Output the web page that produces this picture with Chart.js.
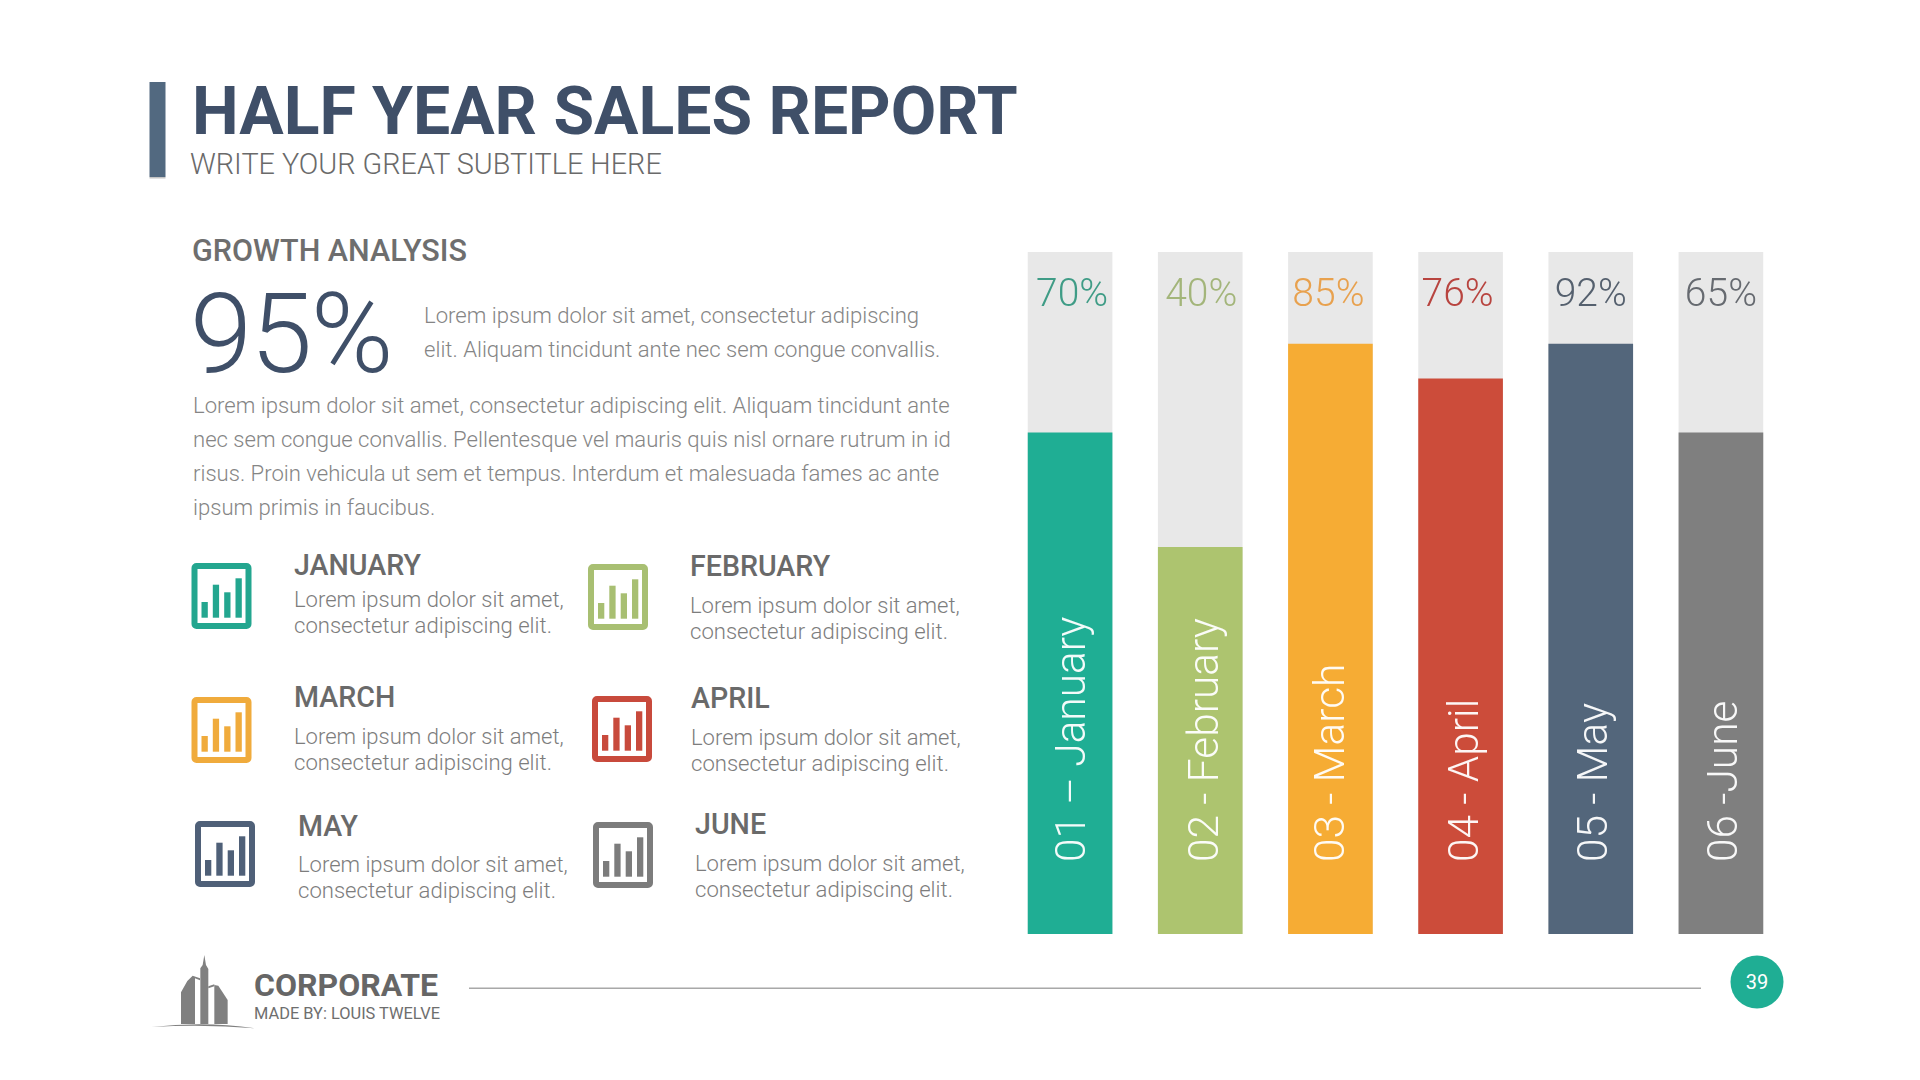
<!DOCTYPE html>
<html>
<head>
<meta charset="utf-8">
<title>Half Year Sales Report</title>
<script src="https://cdn.jsdelivr.net/npm/chart.js@4"></script>
<style>
    html, body { margin: 0; padding: 0; background: #fff; width: 1920px; height: 1080px; overflow: hidden; }
    #slide { position: absolute; left: 0; top: 0; }
    #myChart { position: absolute; left: 1005px; top: 252px; }
    text { font-family: Roboto, sans-serif; }
</style>
</head>
<body>
<svg id="slide" width="1920" height="1080" xmlns="http://www.w3.org/2000/svg"></svg>
<canvas id="myChart" width="781" height="682"></canvas>

<script>
// chart data
const months = ['01 – January', '02 - February', '03 - March', '04 - April', '05 - May', '06 -June'];
const fillValues = [73.5, 56.7, 86.5, 81.4, 86.5, 73.5];
const trackValues = [100, 100, 100, 100, 100, 100];
const percentLabels = ['70%', '40%', '85%', '76%', '92%', '65%'];
const barColors = ['#1fae94', '#adc46f', '#f6ac34', '#cc4c3a', '#53667b', '#7f7f7f'];
const percentColors = ['#3f9c86', '#a3b57a', '#e8a14e', '#b8443f', '#55606e', '#666a70'];

const itemNames = ['JANUARY', 'FEBRUARY', 'MARCH', 'APRIL', 'MAY', 'JUNE'];
const iconColors = ['#23a68f', '#a8bf72', '#f0ab3c', '#c84a3c', '#4f6078', '#7c7c7c'];

const NS = 'http://www.w3.org/2000/svg';
const slide = document.getElementById('slide');

function shape(tag, attrs, parent) {
    let el = document.createElementNS(NS, tag);
    for (let key in attrs) el.setAttribute(key, attrs[key]);
    (parent || slide).appendChild(el);
    return el;
}

// x and y are the start of the text and its baseline
function label(str, x, y, size, weight, color) {
    let el = shape('text', { x: x, y: y, 'font-size': size, 'font-weight': weight, fill: color });
    el.textContent = str;
    return el;
}

// small bar chart icon
function icon(x, y, color) {
    let g = shape('g', { transform: 'translate(' + x + ' ' + y + ')' });
    shape('rect', { x: 3, y: 3, width: 54, height: 60, rx: 2, fill: 'none', stroke: color, 'stroke-width': 6 }, g);
    shape('rect', { x: 10, y: 39, width: 6.3, height: 15.7, fill: color }, g);
    shape('rect', { x: 21.3, y: 21.7, width: 6.3, height: 33, fill: color }, g);
    shape('rect', { x: 32.7, y: 29.3, width: 6.3, height: 25.4, fill: color }, g);
    shape('rect', { x: 44, y: 15.3, width: 6.3, height: 39.4, fill: color }, g);
}

function header() {
    shape('rect', { x: 149.5, y: 177, width: 16, height: 1.5, fill: '#c4c4c4' });
    shape('rect', { x: 149.5, y: 82, width: 16, height: 95, fill: '#526980' });
    label('HALF YEAR SALES REPORT', 192, 134, 66.1, 700, '#3f4f68');
    label('WRITE YOUR GREAT SUBTITLE HERE', 190, 174, 28.8, 300, '#6a6a6a');
}

function intro() {
    label('GROWTH ANALYSIS', 192, 261, 30.5, 500, '#6e6e6e');
    label('95%', 190, 371.5, 112, 300, '#3f4f68').setAttribute('letter-spacing', '-1.8');

    const grey = '#858585';
    label('Lorem ipsum dolor sit amet, consectetur adipiscing', 424, 323, 22.1, 300, grey);
    label('elit. Aliquam tincidunt ante nec sem congue convallis.', 424, 357, 22.1, 300, grey);
    label('Lorem ipsum dolor sit amet, consectetur adipiscing elit. Aliquam tincidunt ante', 193, 413, 22.1, 300, grey);
    label('nec sem congue convallis. Pellentesque vel mauris quis nisl ornare rutrum in id', 193, 447, 22.1, 300, grey);
    label('risus. Proin vehicula ut sem et tempus. Interdum et malesuada fames ac ante', 193, 481, 22.1, 300, grey);
    label('ipsum primis in faucibus.', 193, 515, 22.1, 300, grey);
}

function items() {
    // icon x, icon y, text x, heading baseline, first body baseline
    const slots = [
        [191.5, 563, 294, 575, 607],
        [588, 564, 690, 576, 613],
        [191.5, 697, 294, 707, 744],
        [592, 696, 691, 708, 745],
        [195, 821, 298, 836, 872],
        [593, 822, 695, 834, 871]
    ];
    slots.forEach((s, i) => {
        icon(s[0], s[1], iconColors[i]);
        label(itemNames[i], s[2], s[3], 28.6, 500, '#6a6a6a');
        label('Lorem ipsum dolor sit amet,', s[2], s[4], 22, 300, '#7d7d7d');
        label('consectetur adipiscing elit.', s[2], s[4] + 26, 22.1, 300, '#7d7d7d');
    });
}

function footer() {
    // logo, drawn in the coordinates of a 3x crop
    let logo = shape('g', { transform: 'translate(150 945) scale(0.3333)', fill: '#808080' });
    shape('path', { d: 'M93 237V142L112 108L128 92L150 100V106L135 100V237Z' }, logo);
    shape('path', { d: 'M151 237V70L158 60L163 30L168 60L175 72V237Z' }, logo);
    shape('path', { d: 'M175 124L193 118V124L175 130Z' }, logo);
    shape('path', { d: 'M193 237V120L205 122L233 165V237Z' }, logo);
    shape('path', { d: 'M5 246Q165 228 315 250Q165 237 5 246Z' }, logo);

    label('CORPORATE', 254, 996, 32, 700, '#666');
    label('MADE BY: LOUIS TWELVE', 254, 1018.5, 16.4, 400, '#6e6e6e');
    shape('rect', { x: 469, y: 987.5, width: 1232, height: 1.5, fill: '#a8a8a8' });
    shape('circle', { cx: 1757, cy: 982, r: 26.5, fill: '#1fae94' });
    let num = shape('text', { x: 1757, y: 989, 'font-size': 20, 'font-weight': 400, fill: '#fff', 'text-anchor': 'middle' });
    num.textContent = '39';
}

header();
intro();
items();
footer();

// percent on top of each track and month name up the bar
const percentShift = [2, 1, -2, -3, 0, 0];
const monthShift = [15, 18, 13.5, 17, 16, 16];

const barText = {
    id: 'barText',
    afterDatasetsDraw(chart) {
        const c = chart.ctx;
        const xs = chart.scales.x;
        const top = chart.chartArea.top;
        const bottom = chart.chartArea.bottom;
        c.save();
        months.forEach((m, i) => {
            let x = xs.getPixelForValue(i);

            c.font = '300 39px Roboto';
            c.fillStyle = percentColors[i];
            c.textAlign = 'center';
            c.textBaseline = 'alphabetic';
            c.fillText(percentLabels[i], x + percentShift[i], top + 54);

            c.save();
            c.translate(x + monthShift[i], bottom - 72);
            c.rotate(-Math.PI / 2);
            c.font = '300 42.4px Roboto';
            c.fillStyle = 'rgba(255,255,255,0.95)';
            c.textAlign = 'left';
            c.fillText(m, 0, 0);
            c.restore();
        });
        c.restore();
    }
};

new Chart(document.getElementById('myChart'), {
    type: 'bar',
    data: {
        labels: months,
        datasets: [
            {
                label: 'Fill',
                data: fillValues,
                backgroundColor: barColors,
                grouped: false,
                order: 1,
                barThickness: 84
            },
            {
                label: 'Track',
                data: trackValues,
                backgroundColor: '#e8e8e8',
                grouped: false,
                order: 2,
                barThickness: 84
            }
        ]
    },
    options: {
        responsive: false,
        animation: false,
        layout: { padding: 0 },
        plugins: { legend: { display: false }, tooltip: { enabled: false } },
        scales: {
            x: { display: false },
            y: { display: false, min: 0, max: 100 }
        }
    },
    plugins: [barText]
});
</script>
</body>
</html>
